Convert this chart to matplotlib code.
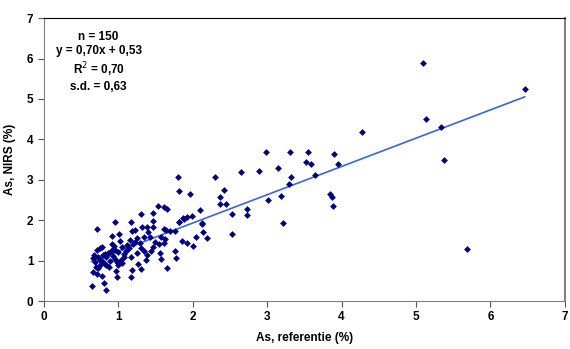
import numpy as np
import matplotlib.pyplot as plt

plt.rcParams['font.family'] = ['Liberation Sans', 'DejaVu Sans']

# reference method (x) vs NIRS prediction (y), ash content in %
as_ref = [
    1.80, 2.30, 1.81, 1.96, 1.53, 1.62, 1.66, 0.96, 1.17, 1.31,
    1.47, 1.47, 2.10, 0.72, 1.39, 1.32, 1.47, 1.18, 1.22, 1.62,
    1.64, 1.76, 1.82, 1.88, 1.92, 1.99, 2.13, 2.14, 2.05, 2.19,
    2.01, 1.92, 1.85, 0.91, 1.01, 1.02, 1.16, 1.25, 1.34, 1.22,
    1.29, 1.43, 1.49, 1.58, 1.62, 1.63, 1.70, 0.75, 0.78, 0.72,
    0.66, 0.69, 0.73, 0.79, 0.82, 0.84, 0.89, 0.91, 0.96, 0.99,
    1.05, 1.08, 1.17, 1.26, 1.31, 1.34, 1.38, 1.37, 1.31, 1.18,
    1.17, 0.98, 1.00, 0.97, 0.98, 0.84, 0.87, 0.75, 0.73, 0.70,
    0.66, 0.71, 0.78, 0.82, 0.64, 0.81, 0.84, 1.58, 1.66, 1.78,
    1.76, 1.54, 1.47, 0.88, 0.95, 1.05, 1.10, 0.78, 0.92, 1.12,
    1.25, 0.68, 1.40, 4.27, 2.98, 3.31, 3.55, 3.90, 3.52, 3.59,
    3.95, 2.65, 2.89, 3.14, 3.64, 3.32, 3.29, 2.42, 2.37, 2.37,
    2.45, 3.01, 3.19, 3.85, 3.87, 3.89, 2.73, 2.73, 2.53, 2.53,
    3.21, 1.87, 2.12, 1.81, 5.09, 6.46, 5.13, 5.33, 5.38, 5.69,
    0.93, 1.03, 1.14, 0.86, 1.44, 1.56, 0.76, 1.20, 1.07, 0.94,
]
as_nirs = [
    3.06, 3.06, 2.72, 2.65, 2.35, 2.32, 2.28, 1.95, 1.95, 2.15,
    2.17, 1.99, 2.24, 1.78, 1.84, 1.82, 1.82, 1.74, 1.76, 1.78,
    1.76, 1.74, 1.95, 2.04, 2.07, 2.10, 1.90, 1.71, 1.59, 1.57,
    1.37, 1.43, 1.48, 1.62, 1.65, 1.48, 1.51, 1.55, 1.59, 1.47,
    1.43, 1.59, 1.47, 1.59, 1.43, 1.53, 1.74, 1.30, 1.33, 1.26,
    1.06, 0.97, 1.10, 1.14, 1.16, 1.08, 1.00, 1.26, 1.26, 1.22,
    1.34, 1.16, 1.08, 0.92, 1.30, 1.24, 1.14, 1.01, 0.78, 0.77,
    0.59, 0.97, 0.89, 0.74, 0.60, 0.89, 0.85, 0.89, 0.81, 0.85,
    0.73, 0.68, 0.63, 0.92, 0.38, 0.44, 0.27, 1.03, 0.81, 1.06,
    1.24, 1.41, 1.34, 1.20, 1.05, 0.95, 1.25, 0.98, 1.42, 1.38,
    1.20, 1.15, 1.70, 4.19, 3.69, 3.69, 3.69, 3.65, 3.43, 3.39,
    3.40, 3.20, 3.22, 3.30, 3.13, 3.07, 2.90, 2.75, 2.58, 2.39,
    2.40, 2.50, 2.59, 2.64, 2.58, 2.35, 2.27, 2.13, 2.15, 1.67,
    1.94, 2.05, 1.92, 1.96, 5.89, 5.24, 4.50, 4.31, 3.50, 1.29,
    1.12, 1.02, 1.30, 1.18, 1.25, 1.20, 1.02, 1.40, 1.09, 1.36,
]

slope, intercept = 0.70, 0.53
stats_text = 'n = 150\ny = 0,70x + 0,53\nR$^2$ = 0,70\ns.d. = 0,63'

fig = plt.figure(figsize=(5.7, 3.49), dpi=100)
ax = fig.add_axes([0.077, 0.1375, 0.914, 0.8105])

ax.scatter(as_ref, as_nirs, marker='D', s=12, color='#000080', zorder=3, linewidths=0)

x_fit = np.array([min(as_ref), max(as_ref)])
ax.plot(x_fit, slope * x_fit + intercept, color='#3b64d6', lw=1.2, zorder=2)

ax.set_xlim(0, 7)
ax.set_ylim(0, 7)
ax.set_xticks(range(8))
ax.set_yticks(range(8))
ax.tick_params(direction='out', length=4, width=0.8, colors='#555555',
               labelcolor='black', labelsize=8.5)
for lbl in ax.get_xticklabels() + ax.get_yticklabels():
    lbl.set_fontweight('bold')

for side in ['left', 'bottom', 'right']:
    ax.spines[side].set_color('#808080')
ax.spines['top'].set_color('black')
ax.spines['right'].set_linewidth(1.5)

ax.set_xlabel('As, referentie (%)', fontsize=8.5, fontweight='bold', labelpad=6)
ax.set_ylabel('As, NIRS (%)', fontsize=8.5, fontweight='bold', labelpad=8)

ax.text(0.105, 0.955, stats_text, transform=ax.transAxes, ha='center', va='top',
        fontsize=8.5, fontweight='bold', linespacing=1.25)

fig.savefig('out.png', dpi=100)
